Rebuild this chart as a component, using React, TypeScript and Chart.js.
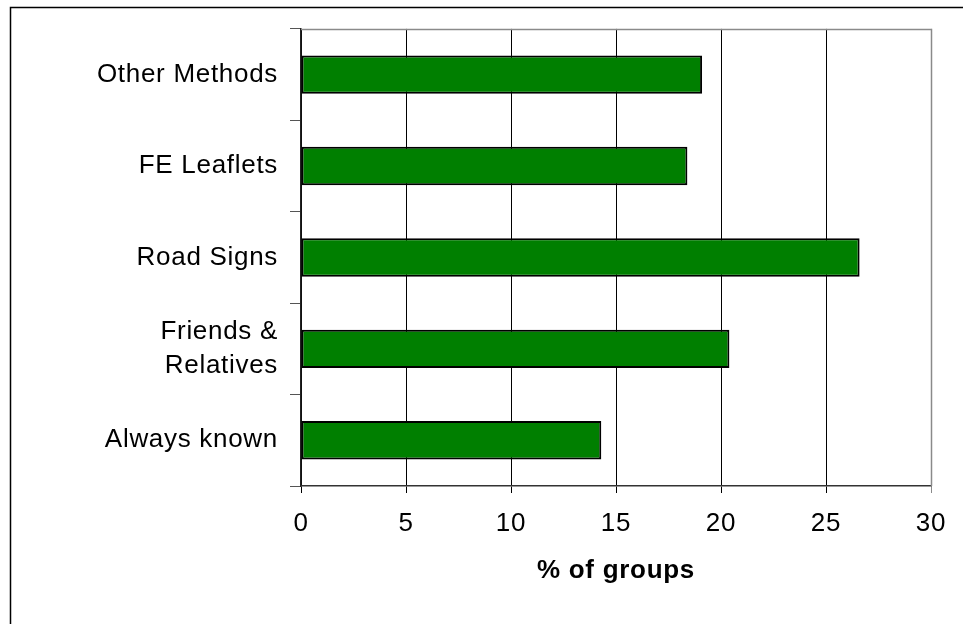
import React, { useEffect, useRef } from "react";
import { Chart, registerables } from "chart.js";

Chart.register(...registerables);

const categories: (string | string[])[] = [
  "Other Methods",
  "FE Leaflets",
  "Road Signs",
  ["Friends &", "Relatives"],
  "Always known",
];
const values: number[] = [19.1, 18.4, 26.6, 20.4, 14.3];
const xTicks: number[] = [0, 5, 10, 15, 20, 25, 30];
const xTitle = "% of groups";

const FONT = "'Liberation Sans', Arial, sans-serif";

const setSpacing = (chart: any) => {
  const ctx = chart.ctx;
  if (ctx && "letterSpacing" in ctx) ctx.letterSpacing = "0.7px";
};

const framePlugin = {
  id: "frame",
  beforeUpdate: setSpacing,
  beforeLayout: setSpacing,
  beforeDraw(chart: any) {
    const ctx = chart.ctx;
    ctx.save();
    ctx.fillStyle = "#ffffff";
    ctx.fillRect(0, 0, chart.width, chart.height);
    ctx.strokeStyle = "#000000";
    ctx.lineWidth = 1.5;
    ctx.beginPath();
    ctx.moveTo(10.5, chart.height + 5);
    ctx.lineTo(10.5, 7.5);
    ctx.lineTo(chart.width + 5, 7.5);
    ctx.stroke();
    ctx.restore();
    setSpacing(chart);
  },
  afterDatasetsDraw(chart: any) {
    const { ctx, chartArea } = chart;
    ctx.save();
    ctx.strokeStyle = "#8a8a8a";
    ctx.lineWidth = 1.5;
    ctx.beginPath();
    ctx.moveTo(chartArea.left, chartArea.top + 0.5);
    ctx.lineTo(chartArea.right + 0.5, chartArea.top + 0.5);
    ctx.lineTo(chartArea.right + 0.5, chartArea.bottom);
    ctx.stroke();
    ctx.restore();
    setSpacing(chart);
  },
};

export default function App() {
  const ref = useRef<HTMLCanvasElement | null>(null);

  useEffect(() => {
    if (!ref.current) return;
    const c2d: any = ref.current.getContext("2d");
    if (c2d && "letterSpacing" in c2d) c2d.letterSpacing = "0.7px";
    const chart = new Chart(ref.current, {
      type: "bar",
      data: {
        labels: categories,
        datasets: [
          {
            data: values,
            backgroundColor: "#007f00",
            borderColor: "#000000",
            borderWidth: 2,
            borderSkipped: false,
            categoryPercentage: 1,
            barPercentage: 0.42,
          },
        ],
      },
      options: {
        indexAxis: "y",
        animation: false,
        responsive: false,
        layout: { padding: { top: 27, right: 32, left: 0, bottom: 0 } },
        plugins: {
          legend: { display: false },
          tooltip: { enabled: false },
        },
        scales: {
          x: {
            type: "linear",
            min: 0,
            max: 30,
            afterBuildTicks: (scale: any) => {
              scale.ticks = xTicks.map((v) => ({ value: v }));
            },
            afterFit: (scale: any) => {
              scale.height = 138;
            },
            grid: {
              color: (c: any) => (c.tick && c.tick.value === 30 ? "#8a8a8a" : "#000000"),
              lineWidth: 1,
              drawTicks: true,
              tickLength: 7,
            },
            border: { display: true, color: "#333333", width: 1.5 },
            ticks: {
              color: "#000000",
              font: { family: FONT, size: 26 },
              padding: 15,
              maxRotation: 0,
              autoSkip: false,
            },
            title: {
              display: true,
              text: xTitle,
              color: "#000000",
              font: { family: FONT, size: 26, weight: "bold" },
              padding: { top: 0, bottom: 38 },
            },
          },
          y: {
            afterFit: (scale: any) => {
              scale.width = 301;
            },
            grid: {
              drawOnChartArea: false,
              drawTicks: true,
              tickLength: 11,
              color: "#555555",
              offset: true,
            },
            border: { display: true, color: "#222222", width: 1.5 },
            ticks: {
              color: "#000000",
              font: { family: FONT, size: 26, lineHeight: 1.3 },
              padding: 12,
            },
          },
        },
      },
      plugins: [framePlugin],
    } as any);
    return () => chart.destroy();
  }, []);

  return (
    <div style={{ position: "fixed", left: 0, top: 0, width: 963, height: 624, background: "#fff" }}>
      <canvas ref={ref} width={963} height={624} style={{ display: "block" }} />
    </div>
  );
}
